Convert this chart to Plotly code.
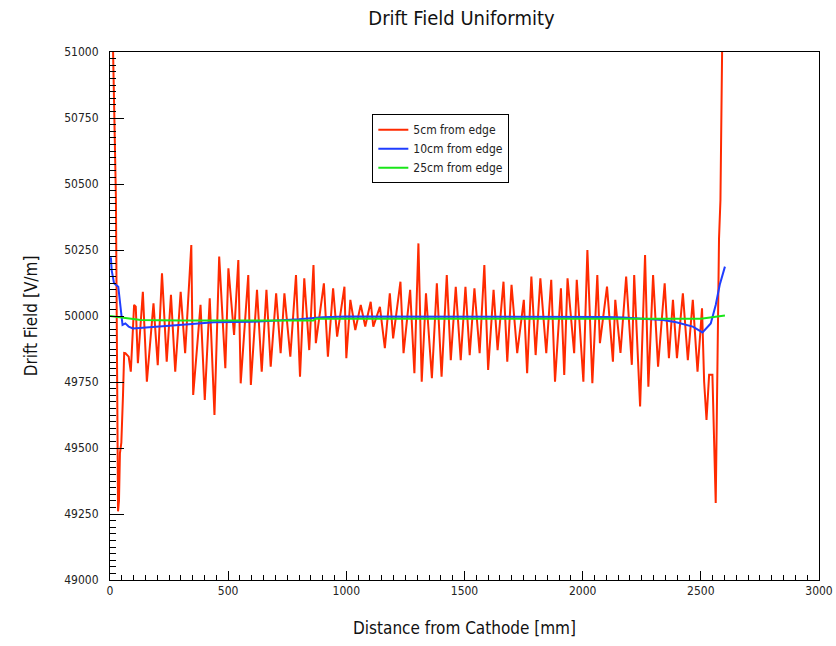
import plotly.graph_objects as go

# 5cm from edge (red): peaks / troughs
red_x = [0, 12, 25, 34, 38, 42, 48, 55, 60, 65, 79, 88, 102, 109, 118, 139, 156, 184, 202, 220,
         240, 258, 276, 299, 318, 344, 352, 383, 401, 422, 442, 462, 488, 501, 525, 543, 553, 585,
         596, 622, 642, 662, 680, 703, 722, 738, 763, 787, 804, 822, 843, 861, 871, 905, 922, 944,
         961, 992, 1000, 1017, 1038, 1061, 1080, 1103, 1114, 1142, 1163, 1184, 1198, 1229, 1242,
         1270, 1288, 1305, 1319, 1337, 1362, 1383, 1403, 1425, 1442, 1463, 1484, 1504, 1522, 1542,
         1564, 1584, 1600, 1623, 1640, 1665, 1681, 1699, 1723, 1751, 1765, 1783, 1801, 1821, 1846,
         1867, 1883, 1908, 1922, 1936, 1964, 1975, 2003, 2020, 2041, 2062, 2073, 2103, 2128, 2138,
         2160, 2184, 2208, 2218, 2243, 2264, 2278, 2298, 2319, 2347, 2365, 2382, 2399, 2424, 2445,
         2466, 2486, 2505, 2514, 2524, 2535, 2549, 2563, 2577, 2583, 2590, 2597]
red_y = [51600, 51000, 50450, 49260, 49300, 49480, 49520, 49700, 49860, 49859, 49846, 49789, 50042,
         50035, 49821, 50092, 49751, 50048, 49814, 50162, 49827, 50080, 49789, 50092, 49859, 50269,
         49701, 50042, 49682, 50067, 49625, 50225, 49802, 50181, 49928, 50212, 49745, 50155, 49739,
         50099, 49789, 50099, 49808, 50086, 49859, 50086, 49846, 50155, 49770, 50143, 49871, 50193,
         49897, 50124, 49846, 50105, 49922, 50111, 49840, 50061, 49947, 50042, 49960, 50054, 49960,
         50035, 49878, 50086, 49915, 50130, 49859, 50099, 49783, 50275, 49751, 50086, 49764, 50124,
         49770, 50155, 49833, 50111, 49833, 50111, 49852, 50105, 49859, 50193, 49796, 50099, 49871,
         50130, 49827, 50118, 49859, 50061, 49783, 50149, 49852, 50143, 49859, 50137, 49751, 50105,
         49777, 50143, 49859, 50137, 49751, 50250, 49745, 50155, 49897, 50111, 49827, 50061, 49860,
         50149, 49815, 50155, 49657, 50231, 49732, 50155, 49808, 50124, 49840, 50061, 49840, 50086,
         49833, 50061, 49789, 50029, 49751, 49606, 49777, 49777, 49292, 50295, 50439, 51000, 51600]

# 10cm from edge (blue)
blue_x = [0, 4, 7, 17, 35, 42, 53, 65, 79, 97, 216, 334, 439, 600, 800, 900, 1000, 1500, 2100,
          2173, 2340, 2396, 2466, 2507, 2542, 2563, 2580, 2602]
blue_y = [50220, 50219, 50174, 50124, 50111, 50061, 49966, 49972, 49960, 49953, 49960, 49969,
          49976, 49978, 49988, 49995, 49998, 49998, 49996, 49994, 49985, 49976, 49960, 49938,
          49972, 50042, 50118, 50187]

# 25cm from edge (green)
green_x = [0, 60, 130, 300, 860, 870, 1500, 2000, 2500, 2602]
green_y = [50000, 49994, 49985, 49983, 49983, 49990, 49990, 49991, 49990, 50002]

series_names = ["5cm from edge", "10cm from edge", "25cm from edge"]
colors = ["#ff2a00", "#1f3dff", "#19e619"]

x_ticks = [0, 500, 1000, 1500, 2000, 2500, 3000]
x_labels = ["0", "500", "1000", "1500", "2000", "2500", "3000"]
y_ticks = [49000, 49250, 49500, 49750, 50000, 50250, 50500, 50750, 51000]
y_labels = ["49000", "49250", "49500", "49750", "50000", "50250", "50500", "50750", "51000"]

FONT = "DejaVu Sans Condensed, Liberation Sans Narrow, sans-serif"

fig = go.Figure()
for xs, ys, name, c in zip([red_x, blue_x, green_x], [red_y, blue_y, green_y], series_names, colors):
    fig.add_trace(go.Scatter(x=xs, y=ys, mode="lines", name=name,
                             line=dict(color=c, width=2)))

fig.update_layout(
    width=836, height=646,
    margin=dict(l=110, r=17, t=52, b=66, autoexpand=False),
    paper_bgcolor="white", plot_bgcolor="white",
    font=dict(family=FONT, color="#222"),
    title=dict(text="Drift Field Uniformity", x=0.552, xanchor="center",
               y=0.972, yanchor="middle", font=dict(size=20, family=FONT, color="#111")),
    showlegend=True,
    legend=dict(x=0.37, y=0.882, xanchor="left", yanchor="top",
                bgcolor="white", bordercolor="black", borderwidth=1,
                font=dict(size=12, family=FONT, color="#222"),
                tracegroupgap=0),
)
fig.update_xaxes(range=[0, 3000], tickmode="array", tickvals=x_ticks, ticktext=x_labels,
                 ticklabeloverflow="allow", automargin=False,
                 ticks="inside", ticklen=9, tickcolor="black",
                 showgrid=False, zeroline=False, showline=True, linecolor="black", linewidth=1,
                 mirror=True, minor=dict(ticks="inside", ticklen=5, dtick=50, tickcolor="black"),
                 tickfont=dict(size=12, family=FONT, color="#222"),
                 title=dict(text="Distance from Cathode [mm]", font=dict(size=17, family=FONT, color="#111"),
                            standoff=24))
fig.update_yaxes(range=[49000, 51000], tickmode="array", tickvals=y_ticks, ticktext=y_labels,
                 ticklabeloverflow="allow", automargin=False,
                 ticks="inside", ticklen=14, tickcolor="black",
                 showgrid=False, zeroline=False, showline=True, linecolor="black", linewidth=1,
                 mirror=True, minor=dict(ticks="inside", ticklen=6, dtick=25, tickcolor="black"),
                 tickfont=dict(size=12, family=FONT, color="#222"), ticklabelstandoff=8,
                 title=dict(text="Drift Field [V/m]", font=dict(size=17, family=FONT, color="#111"),
                            standoff=22))

fig.write_html("out.html")
